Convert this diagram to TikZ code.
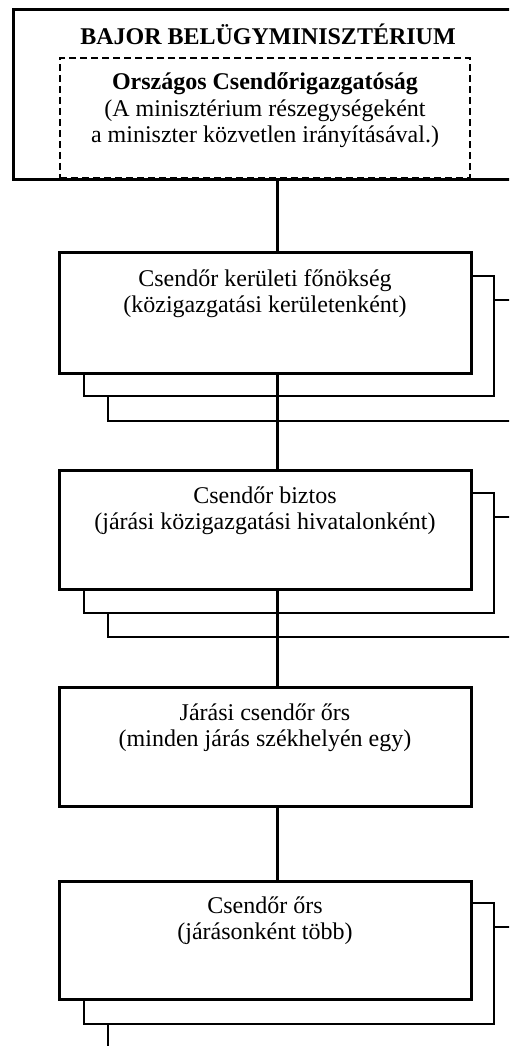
\documentclass[tikz,border=0pt]{standalone}
\usepackage{fontspec}
\setmainfont{Liberation Serif}
\begin{document}
\begin{tikzpicture}[x=1pt,y=-1pt,
  frontbox/.style={draw, line width=3pt, fill=white, inner sep=0pt},
  shadowbox/.style={draw, line width=1.2pt, fill=white, inner sep=0pt},
  dashbox/.style={draw, line width=1.8pt, dash pattern=on 7pt off 4pt, inner sep=0pt},
  conn/.style={line width=3pt},
  lbl/.style={inner sep=0pt, anchor=base, font=\fontsize{24}{26.5}\selectfont}]
\useasboundingbox (0,0) rectangle (509,1046);
\clip (0,0) rectangle (509,1046);
\coordinate (spine) at (277,0);
% top box
\node[frontbox, minimum width=517pt, minimum height=169pt] (top) at (271.5,94.5) {};
\node[dashbox, minimum width=410pt, minimum height=120pt] (dash) at (265,118) {};
\node[lbl] (toptxt) at (268,45) {\bfseries BAJOR BELÜGYMINISZTÉRIUM};
\node[lbl] (dashtxt) at (265,90) {\begin{tabular}[t]{@{}c@{}}\bfseries Országos Csendőrigazgatóság\\(A minisztérium részegységeként\\a miniszter közvetlen irányításával.)\end{tabular}};
% level 1
\node[shadowbox, minimum width=432pt, minimum height=121pt] (s13) at (324,360.5) {};
\node[shadowbox, minimum width=410pt, minimum height=120pt] (s12) at (289,336) {};
\node[frontbox, minimum width=412pt, minimum height=121pt] (b1) at (265,312.5) {};
\node[lbl] (b1t) at (265,286) {\begin{tabular}[t]{@{}c@{}}Csendőr kerületi főnökség\\(közigazgatási kerületenként)\end{tabular}};
% level 2
\node[shadowbox, minimum width=432pt, minimum height=120pt] (s23) at (324,577) {};
\node[shadowbox, minimum width=410pt, minimum height=120pt] (s22) at (289,553) {};
\node[frontbox, minimum width=412pt, minimum height=119pt] (b2) at (265,529.5) {};
\node[lbl] (b2t) at (265,503) {\begin{tabular}[t]{@{}c@{}}Csendőr biztos\\(járási közigazgatási hivatalonként)\end{tabular}};
% level 3
\node[frontbox, minimum width=412pt, minimum height=119pt] (b3) at (265,746.5) {};
\node[lbl] (b3t) at (265,720) {\begin{tabular}[t]{@{}c@{}}Járási csendőr őrs\\(minden járás székhelyén egy)\end{tabular}};
% level 4
\node[shadowbox, minimum width=432pt, minimum height=133pt] (s43) at (324,993.5) {};
\node[shadowbox, minimum width=410pt, minimum height=121pt] (s42) at (289,963.5) {};
\node[frontbox, minimum width=412pt, minimum height=118pt] (b4) at (265,940) {};
\node[lbl] (b4t) at (265,913) {\begin{tabular}[t]{@{}c@{}}Csendőr őrs\\(járásonként több)\end{tabular}};
% connectors
\draw[conn] (top.south -| spine) -- (b1.north -| spine);
\draw[conn] (b1.south -| spine) -- (b2.north -| spine);
\draw[conn] (b2.south -| spine) -- (b3.north -| spine);
\draw[conn] (b3.south -| spine) -- (b4.north -| spine);
\end{tikzpicture}
\end{document}
